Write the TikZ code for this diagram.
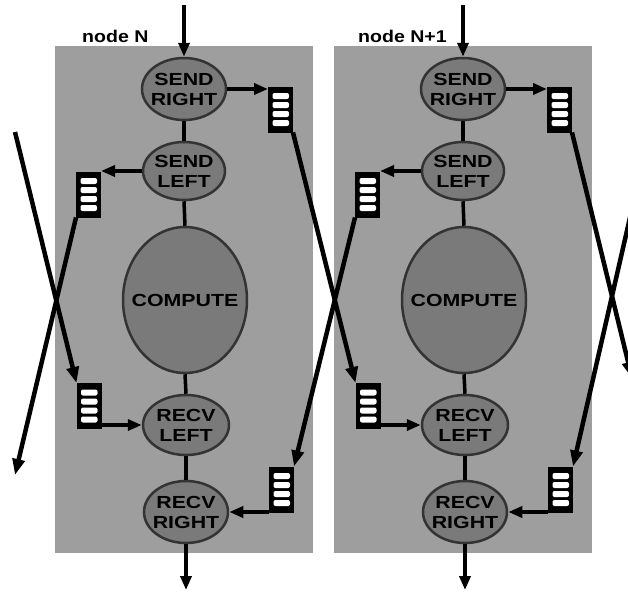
\documentclass[tikz,border=0pt]{standalone}
\usepackage{fontspec}
\newfontfamily\hv{Liberation Sans}
\usetikzlibrary{shapes.geometric,arrows.meta,calc}
\newcommand\wt[1]{\scalebox{1.22}[1]{#1}}
\newcommand\wl[1]{\scalebox{1.15}[1]{#1}}
\begin{document}
\begin{tikzpicture}[x=1pt,y=-1pt,
  panel/.style={fill=black!38},
  proc/.style={ellipse, fill=black!52, draw=black!80, line width=2.5pt, inner sep=0pt},
  ptxt/.style={font=\hv\bfseries\fontsize{17.5}{20}\selectfont, align=center, inner sep=0pt},
  lbl/.style={font=\hv\bfseries\fontsize{17}{20}\selectfont, inner sep=0pt},
  buf/.style={rectangle, fill=black, draw=black, line width=1pt, minimum width=24pt,
    minimum height=45pt, inner sep=0pt,
    path picture={\foreach \k in {0,...,3}{
      \fill[white, rounded corners=2pt]
        ($(path picture bounding box.north west)+(4pt,{-6pt-\k*9pt})$) rectangle ++(16.5pt,-6pt);}}},
  link/.style={line width=3.5pt},
  arr/.style={line width=3.5pt, -{Triangle[length=14pt,width=11pt]}},
  longarr/.style={line width=4.5pt, -{Triangle[length=16pt,width=12pt]}}
]
\useasboundingbox (0,0) rectangle (628,592);
\foreach \n/\dx in {0/0,1/279}{
 \begin{scope}[xshift=\dx pt]
  \fill[panel] (55,46) rectangle (313,553);
  \node[proc, minimum width=84pt, minimum height=62pt] (sr\n) at (184,89) {};
  \node[proc, minimum width=82pt, minimum height=58pt] (sl\n) at (184,171) {};
  \node[proc, minimum width=124pt, minimum height=146pt] (cp\n) at (185,300) {};
  \node[proc, minimum width=86pt, minimum height=60pt] (rl\n) at (186,425) {};
  \node[proc, minimum width=84pt, minimum height=62pt] (rr\n) at (186,512) {};
  \node[ptxt] (srt\n) at (sr\n) {\wt{SEND}\\\wt{RIGHT}};
  \node[ptxt] (slt\n) at (sl\n) {\wt{SEND}\\\wt{LEFT}};
  \node[ptxt] (cpt\n) at (cp\n) {\wt{COMPUTE}};
  \node[ptxt] (rlt\n) at (rl\n) {\wt{RECV}\\\wt{LEFT}};
  \node[ptxt] (rrt\n) at (rr\n) {\wt{RECV}\\\wt{RIGHT}};
  \draw[link] (sr\n.south) -- (sl\n.north);
  \draw[link] (sl\n.south) -- (cp\n.north);
  \draw[link] (cp\n.south) -- (rl\n.north);
  \draw[link] (rl\n.south) -- (rr\n.north);
  \coordinate (in\n) at (184,5);
  \coordinate (out\n) at (186,590);
  \draw[arr] (in\n) -- (sr\n.north);
  \draw[arr] (rr\n.south) -- (out\n);
  \node[buf] (bsr\n) at (280.5,109.5) {};
  \node[buf] (bsl\n) at (88.5,194.5) {};
  \node[buf] (brl\n) at (89,406) {};
  \node[buf] (brr\n) at (281.5,489.5) {};
  \draw[arr] (sr\n.east) -- (sr\n.east -| bsr\n.west);
  \draw[arr] (sl\n.west) -- (sl\n.west -| bsl\n.east);
  \draw[arr] (rl\n.west -| brl\n.east) -- (rl\n.west);
  \draw[arr] (rr\n.east -| brr\n.west) -- (rr\n.east);
 \end{scope}
}
\node[lbl, anchor=base west] (lblA) at (82,42) {\wl{node N}};
\node[lbl, anchor=base west] (lblB) at (358,42) {\wl{node N+1}};
\coordinate (lin) at (15,132);
\coordinate (lout) at (15,475);
\coordinate (rin) at (634,200);
\coordinate (rout) at (632,378);
\begin{scope}
  \clip (0,0) rectangle (628,592);
  \draw[longarr] (lin) -- (brl0.north west);
  \draw[longarr] (bsl0.south west) -- (lout);
  \draw[longarr] (bsr0.south east) -- (brl1.north west);
  \draw[longarr] (bsl1.south west) -- (brr0.north east);
  \draw[longarr] (bsr1.south east) -- (rout);
  \draw[longarr] (rin) -- (brr1.north east);
\end{scope}
\end{tikzpicture}
\end{document}
